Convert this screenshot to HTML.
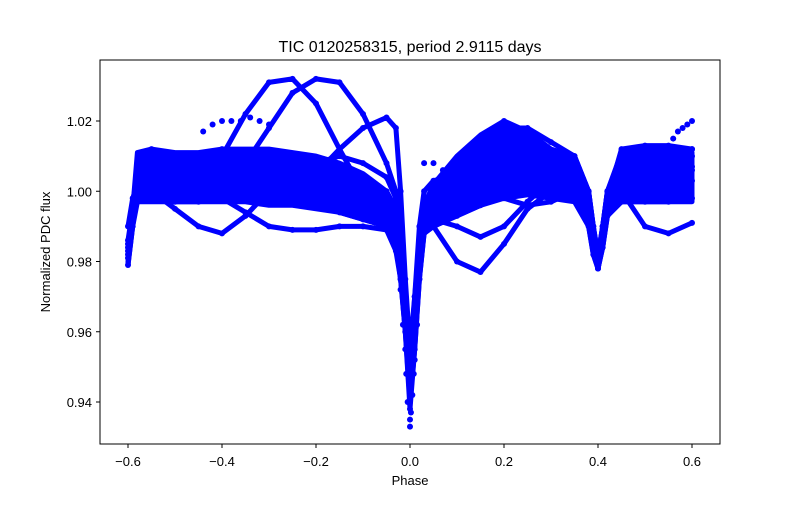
<!DOCTYPE html>
<html><head><meta charset="utf-8"><style>
body{margin:0;background:#fff;}
svg text{font-family:"Liberation Sans","DejaVu Sans",sans-serif;fill:#000;}
</style></head><body>
<svg id="chart" width="800" height="500" xmlns="http://www.w3.org/2000/svg">
<rect width="800" height="500" fill="#fff"/>
<text x="410" y="52" font-size="16" text-anchor="middle">TIC 0120258315, period 2.9115 days</text>
<g id="marks"></g>
<rect x="100" y="60" width="620" height="384" fill="none" stroke="#000" stroke-width="1"/>
<g id="xticks"></g>
<g id="yticks"></g>
<text x="410" y="485" font-size="13" text-anchor="middle">Phase</text>
<text transform="translate(50,252) rotate(-90)" font-size="13" text-anchor="middle">Normalized PDC flux</text>
</svg>
<script>
const phases=[-0.6,-0.59,-0.58,-0.55,-0.5,-0.45,-0.4,-0.35,-0.3,-0.25,-0.2,-0.15,-0.1,-0.05,-0.03,-0.02,-0.01,0,0.01,0.02,0.03,0.05,0.1,0.15,0.2,0.25,0.3,0.35,0.38,0.39,0.4,0.41,0.42,0.45,0.5,0.55,0.6];
const upperEnv=[0.98,0.995,1.011,1.012,1.011,1.011,1.012,1.012,1.012,1.011,1.01,1.008,1.005,1.0,0.995,0.985,0.97,0.95,0.965,0.985,0.996,1.002,1.01,1.016,1.02,1.017,1.012,1.01,1.0,0.99,0.982,0.99,1.0,1.011,1.012,1.012,1.011];
const lowerEnv=[0.979,0.99,0.997,0.997,0.997,0.997,0.997,0.997,0.996,0.996,0.995,0.994,0.992,0.99,0.985,0.975,0.96,0.94,0.955,0.975,0.988,0.99,0.993,0.996,0.998,0.999,0.998,0.997,0.99,0.982,0.978,0.984,0.993,0.997,0.997,0.997,0.997];
const s1=[0.979,0.99,1.0,1.005,1.004,1.003,1.003,1.004,1.004,1.003,1.002,1.0,0.998,0.995,0.99,0.98,0.965,0.945,0.96,0.98,0.99,0.995,1.0,1.005,1.01,1.008,1.005,1.003,0.995,0.985,0.978,0.985,0.995,1.003,1.004,1.004,1.003];
const s2=[0.983,0.995,1.008,1.012,1.01,1.01,1.012,1.01,1.011,1.01,1.008,1.006,1.003,1.0,0.995,0.985,0.97,0.95,0.965,0.985,0.995,1.0,1.008,1.014,1.02,1.016,1.011,1.01,1.0,0.99,0.982,0.99,1.0,1.01,1.012,1.012,1.01];
const s3=[0.985,0.993,0.997,0.998,0.997,0.997,0.998,0.998,0.997,0.997,0.996,0.994,0.992,0.99,0.985,0.975,0.96,0.938,0.955,0.975,0.988,0.99,0.993,0.996,1.0,1.0,0.999,0.998,0.99,0.982,0.978,0.984,0.993,0.997,0.997,0.997,0.998];
const s4=[0.99,0.998,1.002,1.0,0.995,0.99,0.988,0.993,1.0,1.005,1.008,1.01,1.008,1.004,0.998,0.988,0.97,0.94,0.96,0.98,0.99,0.992,0.99,0.987,0.99,0.997,1.003,1.005,0.998,0.988,0.98,0.99,0.998,1.0,0.99,0.988,0.991];
const s5=[0.982,0.992,1.0,1.003,1.003,1.0,1.01,1.022,1.031,1.032,1.025,1.012,1.0,0.995,0.99,0.985,0.97,0.95,0.97,0.985,0.99,0.99,0.98,0.977,0.985,0.995,1.0,1.003,0.997,0.987,0.98,0.99,0.998,1.005,1.006,1.006,1.006];
const s6=[0.984,0.994,1.0,1.0,1.0,1.0,1.002,1.008,1.018,1.028,1.032,1.031,1.022,1.008,1.0,0.99,0.97,0.948,0.965,0.985,0.995,1.0,1.005,1.0,0.998,0.996,0.997,1.0,0.995,0.985,0.978,0.987,0.997,1.008,1.01,1.01,1.012];
const s7=[0.986,0.995,1.0,1.002,1.003,1.0,0.998,0.994,0.99,0.989,0.989,0.99,0.99,0.989,0.983,0.975,0.962,0.942,0.96,0.98,0.99,0.995,1.002,1.01,1.018,1.018,1.014,1.01,1.0,0.99,0.98,0.99,1.0,1.007,1.008,1.007,1.007];
const s8=[0.981,0.992,1.005,1.008,1.006,1.005,1.004,1.0,0.998,1.0,1.005,1.012,1.018,1.021,1.018,1.0,0.975,0.955,0.97,0.99,1.0,1.003,1.005,1.004,1.005,1.003,1.002,1.002,0.996,0.986,0.979,0.988,0.998,1.012,1.013,1.013,1.012];
const eclX=[-0.01,-0.005,0,0.0,0.005,0.01,-0.008,0.008,0.002,-0.015,0.015,-0.02,0.02];
const eclY=[0.955,0.94,0.933,0.935,0.942,0.952,0.948,0.948,0.937,0.962,0.962,0.972,0.975];
const extraX=[-0.44,-0.42,-0.4,-0.38,-0.36,-0.34,-0.32,-0.3,0.03,0.05,0.07,0.56,0.57,0.58,0.59,0.6];
const extraY=[1.017,1.019,1.02,1.02,1.02,1.021,1.02,1.019,1.008,1.008,1.006,1.015,1.017,1.018,1.019,1.02];
const series=[s1,s2,s3,s4,s5,s6,s7,s8];
const xTicks=[-0.6,-0.4,-0.2,0.0,0.2,0.4,0.6];
const xTickLabels=["−0.6","−0.4","−0.2","0.0","0.2","0.4","0.6"];
const yTicks=[0.94,0.96,0.98,1.00,1.02];
const yTickLabels=["0.94","0.96","0.98","1.00","1.02"];
const NS="http://www.w3.org/2000/svg";
function X(v){return 128+(v+0.6)*470;}
function Y(v){return 121+(1.02-v)*3512.5;}
const marks=document.getElementById('marks');
const band=document.createElementNS(NS,'polygon');


const pts=upperEnv.map((v,j)=>X(phases[j])+','+Y(v)).concat(lowerEnv.map((v,j)=>X(phases[j])+','+Y(v)).reverse());
band.setAttribute('points',pts.join(' '));
band.setAttribute('fill','#0000ff');band.setAttribute('stroke','#0000ff');band.setAttribute('stroke-width','5');band.setAttribute('stroke-linejoin','round');
marks.appendChild(band);
series.forEach((s,i)=>{
  const pl=document.createElementNS(NS,'polyline');
  
  
  pl.setAttribute('points',s.map((v,j)=>X(phases[j])+','+Y(v)).join(' '));
  pl.setAttribute('fill','none');pl.setAttribute('stroke','#0000ff');
  pl.setAttribute('stroke-width','5');pl.setAttribute('stroke-linejoin','round');pl.setAttribute('stroke-linecap','round');
  marks.appendChild(pl);
  s.forEach((v,j)=>{
    const c=document.createElementNS(NS,'circle');
    
    
    c.setAttribute('cx',X(phases[j]));c.setAttribute('cy',Y(v));c.setAttribute('r',3);c.setAttribute('fill','#0000ff');
    marks.appendChild(c);
  });
});
function dot(p,v,name){
  const c=document.createElementNS(NS,'circle');
  
  
  c.setAttribute('cx',X(p));c.setAttribute('cy',Y(v));c.setAttribute('r',3);c.setAttribute('fill','#0000ff');
  marks.appendChild(c);
}
eclX.forEach((p,j)=>dot(p,eclY[j],'eclipse-point'));
extraX.forEach((p,j)=>dot(p,extraY[j],'scatter-point'));
const xg=document.getElementById('xticks');
xTicks.forEach((t,i)=>{
  const l=document.createElementNS(NS,'line');
  
  
  l.setAttribute('x1',X(t));l.setAttribute('x2',X(t));l.setAttribute('y1',444);l.setAttribute('y2',448);l.setAttribute('stroke','#000');
  xg.appendChild(l);
  const tx=document.createElementNS(NS,'text');
  
  
  tx.setAttribute('x',X(t));tx.setAttribute('y',466);tx.setAttribute('font-size','13');tx.setAttribute('text-anchor','middle');
  tx.textContent=xTickLabels[i];xg.appendChild(tx);
});
const yg=document.getElementById('yticks');
yTicks.forEach((t,i)=>{
  const l=document.createElementNS(NS,'line');
  
  
  l.setAttribute('x1',96);l.setAttribute('x2',100);l.setAttribute('y1',Y(t));l.setAttribute('y2',Y(t));l.setAttribute('stroke','#000');
  yg.appendChild(l);
  const tx=document.createElementNS(NS,'text');
  
  
  tx.setAttribute('x',92);tx.setAttribute('y',Y(t)+5);tx.setAttribute('font-size','13');tx.setAttribute('text-anchor','end');
  tx.textContent=yTickLabels[i];yg.appendChild(tx);
});
</script>
</body></html>
